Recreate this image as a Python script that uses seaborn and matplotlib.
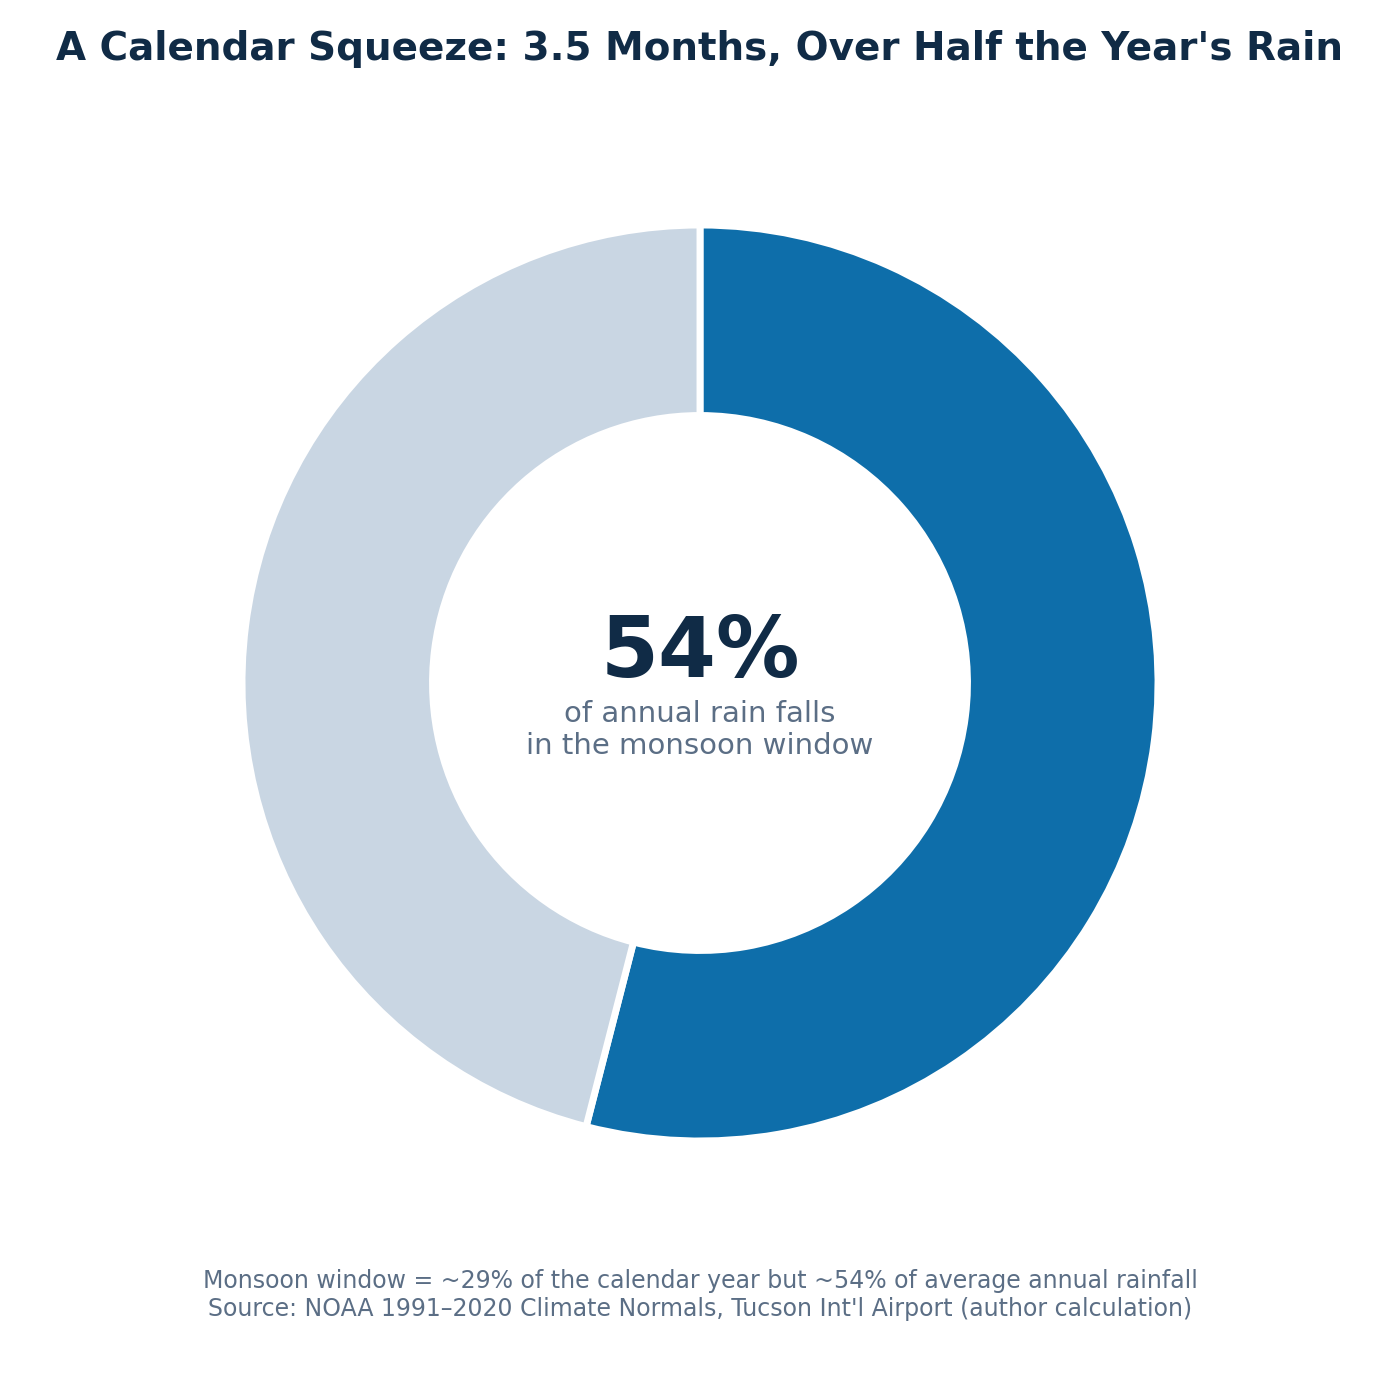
import matplotlib
matplotlib.use("Agg")
import matplotlib.pyplot as plt
import seaborn as sns

# Share of annual rainfall
labels = ["Monsoon window", "Rest of year"]
shares = [54, 46]
colors = ["#0E6EAA", "#C9D6E3"]

sns.set_theme(style="white")
plt.rcParams["font.family"] = ["DejaVu Sans"]

fig = plt.figure(figsize=(14, 14), dpi=100)
fig.patch.set_facecolor("white")

r = 458
ax = fig.add_axes([(700 - r) / 1400, (717 - r) / 1400, 2 * r / 1400, 2 * r / 1400])
ax.pie(shares, labels=None, colors=colors, startangle=90, counterclock=False,
       wedgeprops=dict(width=0.416, edgecolor="white", linewidth=5))
ax.set_xlim(-1, 1)
ax.set_ylim(-1, 1)
ax.set_aspect("equal")
ax.axis("off")

dark = "#102B46"
grey = "#5B6E85"

fig.text(0.5, 1 - 49 / 1400, "A Calendar Squeeze: 3.5 Months, Over Half the Year's Rain",
         ha="center", va="center", fontsize=28, fontweight="bold", color=dark)

fig.text(0.5, 1 - 653 / 1400, f"{shares[0]}%", ha="center", va="center",
         fontsize=60, fontweight="bold", color=dark)
fig.text(0.5, 1 - 730 / 1400, "of annual rain falls\nin the monsoon window",
         ha="center", va="center", fontsize=21, color=grey, linespacing=1.2)

fig.text(0.5, 1 - 1295 / 1400,
         "Monsoon window = ~29% of the calendar year but ~54% of average annual rainfall\n"
         "Source: NOAA 1991\u20132020 Climate Normals, Tucson Int'l Airport (author calculation)",
         ha="center", va="center", fontsize=17, color=grey, linespacing=1.2)

fig.savefig("out.png", dpi=100, facecolor="white")
plt.close(fig)
